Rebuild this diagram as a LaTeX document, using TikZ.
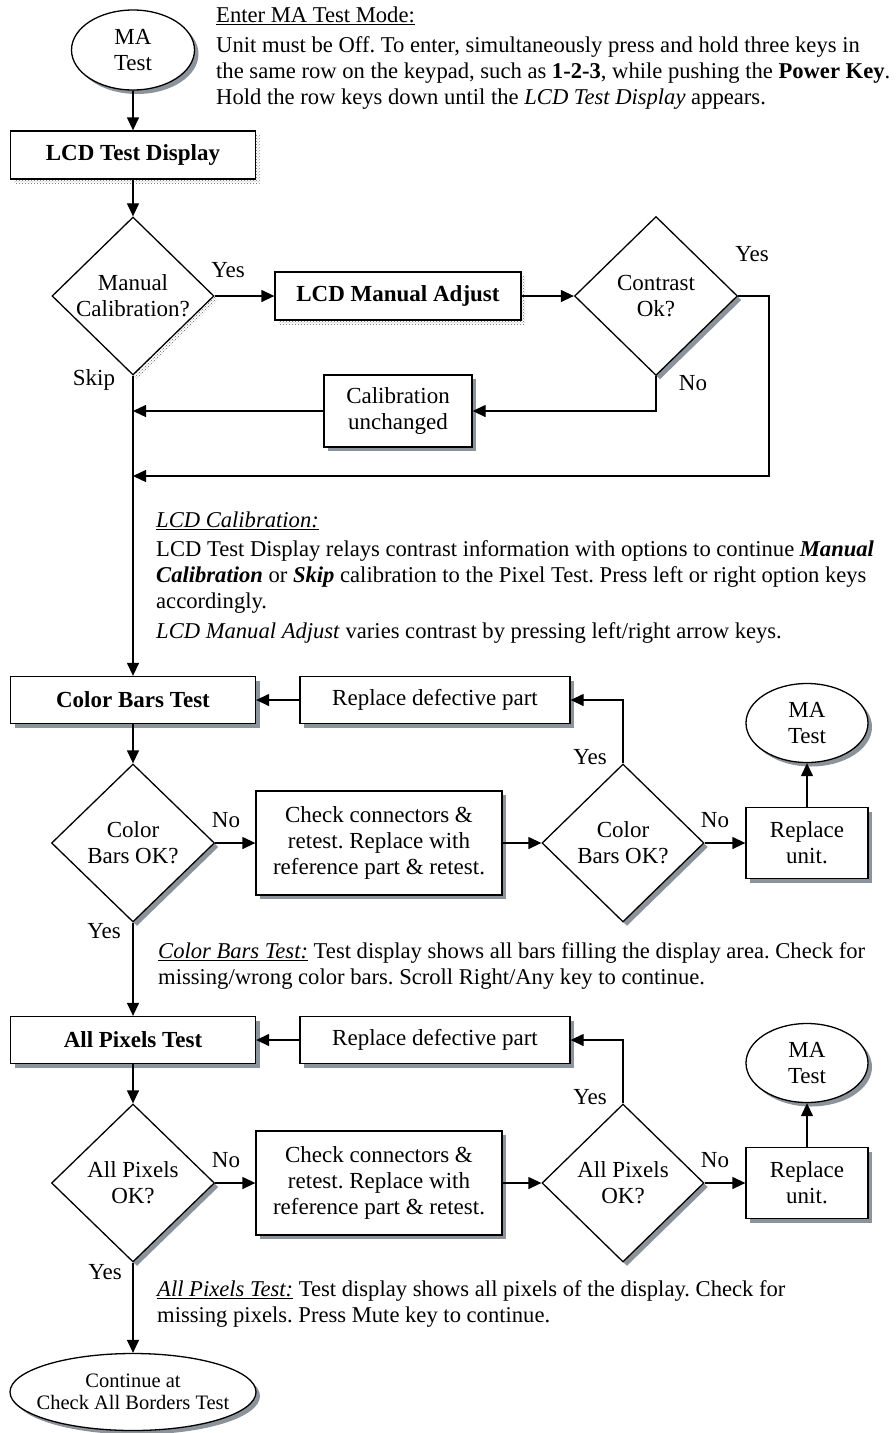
\documentclass[tikz,border=0pt]{standalone}
\usepackage{fontspec}
\setmainfont{Liberation Serif}
\usepackage{xcolor}
\definecolor{shade}{HTML}{8C939B}
\usepackage{tikz}
\usetikzlibrary{arrows.meta, shapes.geometric, shadows, patterns}
\frenchspacing

\tikzset{
  flow/.style={line width=1.3pt, -{Triangle[length=13pt, width=12pt]}},
  box/.style={draw, line width=1.3pt, fill=white, rectangle, inner sep=0pt, align=center,
    font=\fontsize{23}{26}\selectfont},
  testbox/.style={box, font=\fontsize{23}{26}\selectfont\bfseries},
  decision/.style={box, diamond, aspect=1},
  terminal/.style={box, ellipse},
  solidshade/.style={drop shadow={shadow xshift=4pt, shadow yshift=-4pt, fill=shade, opacity=1}},
  dotshade/.style={drop shadow={shadow xshift=4pt, shadow yshift=-4pt, fill=shade!45,
    pattern=crosshatch dots, pattern color=shade!70!black, opacity=1}},
  lbl/.style={inner sep=0pt, font=\fontsize{23}{26}\selectfont},
  para/.style={anchor=base west, align=left, inner sep=0pt, font=\fontsize{22.6}{26}\selectfont},
}

\begin{document}
\begin{tikzpicture}[x=1pt, y=-1pt]
  \useasboundingbox (0,0) rectangle (895,1433);

  % start: test mode entry
  \node[terminal, solidshade, minimum width=123pt, minimum height=80pt] (start) at (133,50) {MA\\Test};
  \node[para] (modetext) at (216,104) {\underline{Enter MA Test Mode:}\\[4pt]
    Unit must be Off. To enter, simultaneously press and hold three keys in\\
    the same row on the keypad, such as \textbf{1-2-3}, while pushing the \textbf{Power Key}.\\
    Hold the row keys down until the \textit{LCD Test Display} appears.};
  \node[testbox, dotshade, minimum width=245pt, minimum height=48pt] (lcd) at (133,155) {LCD Test Display};

  % calibration loop
  \node[decision, dotshade, minimum width=162pt, minimum height=158pt] (manual) at (133,296) {Manual\\Calibration?};
  \node[testbox, dotshade, minimum width=246pt, minimum height=48pt] (adjust) at (398,296) {LCD Manual Adjust};
  \node[decision, solidshade, minimum width=163pt, minimum height=159pt] (contrast) at (656,296) {Contrast\\Ok?};
  \node[box, solidshade, minimum width=148pt, minimum height=72pt] (unchanged) at (398,411) {Calibration\\unchanged};
  \coordinate (loopcorner) at (769,476);
  \coordinate (loopjoin) at (133,476);
  \node[lbl] (manualyes) at (228,270) {Yes};
  \node[lbl] (manualskip) at (94,380) {Skip};
  \node[lbl] (contrastyes) at (752,254) {Yes};
  \node[lbl] (contrastno) at (693,383) {No};
  \node[para] (caltext) at (156,638) {\underline{\textit{LCD Calibration:}}\\[3pt]
    LCD Test Display relays contrast information with options to continue \textbf{\textit{Manual}}\\
    \textbf{\textit{Calibration}} or \textbf{\textit{Skip}} calibration to the Pixel Test. Press left or right option keys\\
    accordingly.\\[4pt]
    \textit{LCD Manual Adjust} varies contrast by pressing left/right arrow keys.};

  % color bars
  \node[testbox, solidshade, minimum width=245pt, minimum height=47pt] (colorbars) at (133,700) {Color Bars Test};
  \node[box, solidshade, minimum width=270pt, minimum height=47pt] (replacebars) at (435,700) {Replace defective part};
  \node[decision, solidshade, minimum width=163pt, minimum height=158pt] (barsok) at (133,843) {Color\\Bars OK?};
  \node[box, solidshade, minimum width=246pt, minimum height=104pt] (checkbars) at (379,843) {Check connectors \&\\retest. Replace with\\reference part \& retest.};
  \node[decision, solidshade, minimum width=162pt, minimum height=158pt] (barsokb) at (623,843) {Color\\Bars OK?};
  \node[box, solidshade, minimum width=122pt, minimum height=71pt] (unitbars) at (807,843) {Replace\\unit.};
  \node[terminal, solidshade, minimum width=122pt, minimum height=79pt] (endbars) at (807,723) {MA\\Test};
  \node[lbl] (barsno) at (226,820) {No};
  \node[lbl] (barsyes) at (590,757) {Yes};
  \node[lbl] (barsnob) at (715,820) {No};
  \node[lbl] (barsyesb) at (104,931) {Yes};
  \node[para] (barstext) at (158,984) {\underline{\textit{Color Bars Test:}} Test display shows all bars filling the display area. Check for\\
    missing/wrong color bars. Scroll Right/Any key to continue.};

  % all pixels
  \node[testbox, solidshade, minimum width=245pt, minimum height=47pt] (allpix) at (133,1040) {All Pixels Test};
  \node[box, solidshade, minimum width=270pt, minimum height=47pt] (replacepix) at (435,1040) {Replace defective part};
  \node[decision, solidshade, minimum width=163pt, minimum height=158pt] (pixok) at (133,1183) {All Pixels\\OK?};
  \node[box, solidshade, minimum width=246pt, minimum height=104pt] (checkpix) at (379,1183) {Check connectors \&\\retest. Replace with\\reference part \& retest.};
  \node[decision, solidshade, minimum width=162pt, minimum height=158pt] (pixokb) at (623,1183) {All Pixels\\OK?};
  \node[box, solidshade, minimum width=122pt, minimum height=71pt] (unitpix) at (807,1183) {Replace\\unit.};
  \node[terminal, solidshade, minimum width=122pt, minimum height=79pt] (endpix) at (807,1063) {MA\\Test};
  \node[lbl] (pixno) at (226,1160) {No};
  \node[lbl] (pixyes) at (590,1097) {Yes};
  \node[lbl] (pixnob) at (715,1160) {No};
  \node[lbl] (pixyesb) at (105,1272) {Yes};
  \node[para] (pixtext) at (157,1322) {\underline{\textit{All Pixels Test:}} Test display shows all pixels of the display. Check for\\
    missing pixels. Press Mute key to continue.};
  \node[terminal, solidshade, inner xsep=-10pt, minimum width=246pt, minimum height=77pt,
    font=\fontsize{20.5}{22}\selectfont] (finish) at (133,1392) {Continue at\\Check All Borders Test};

  % connectors
  \draw[flow] (start) -- (lcd);
  \draw[flow] (lcd) -- (manual);
  \draw[flow] (manual) -- (adjust);
  \draw[flow] (adjust) -- (contrast);
  \draw[flow] (contrast.south) |- (unchanged.east);
  \draw[flow] (unchanged.west) -- (manual.south |- unchanged.west);
  \draw[flow] (contrast.east) -| (loopcorner) -- (loopjoin);
  \draw[flow] (manual.south) -- (colorbars.north);

  \draw[flow] (replacebars) -- (colorbars);
  \draw[flow] (colorbars) -- (barsok);
  \draw[flow] (barsok) -- (checkbars);
  \draw[flow] (checkbars) -- (barsokb);
  \draw[flow] (barsokb.north) |- (replacebars.east);
  \draw[flow] (barsokb) -- (unitbars);
  \draw[flow] (unitbars) -- (endbars);
  \draw[flow] (barsok) -- (allpix);

  \draw[flow] (replacepix) -- (allpix);
  \draw[flow] (allpix) -- (pixok);
  \draw[flow] (pixok) -- (checkpix);
  \draw[flow] (checkpix) -- (pixokb);
  \draw[flow] (pixokb.north) |- (replacepix.east);
  \draw[flow] (pixokb) -- (unitpix);
  \draw[flow] (unitpix) -- (endpix);
  \draw[flow] (pixok) -- (finish);
\end{tikzpicture}
\end{document}
